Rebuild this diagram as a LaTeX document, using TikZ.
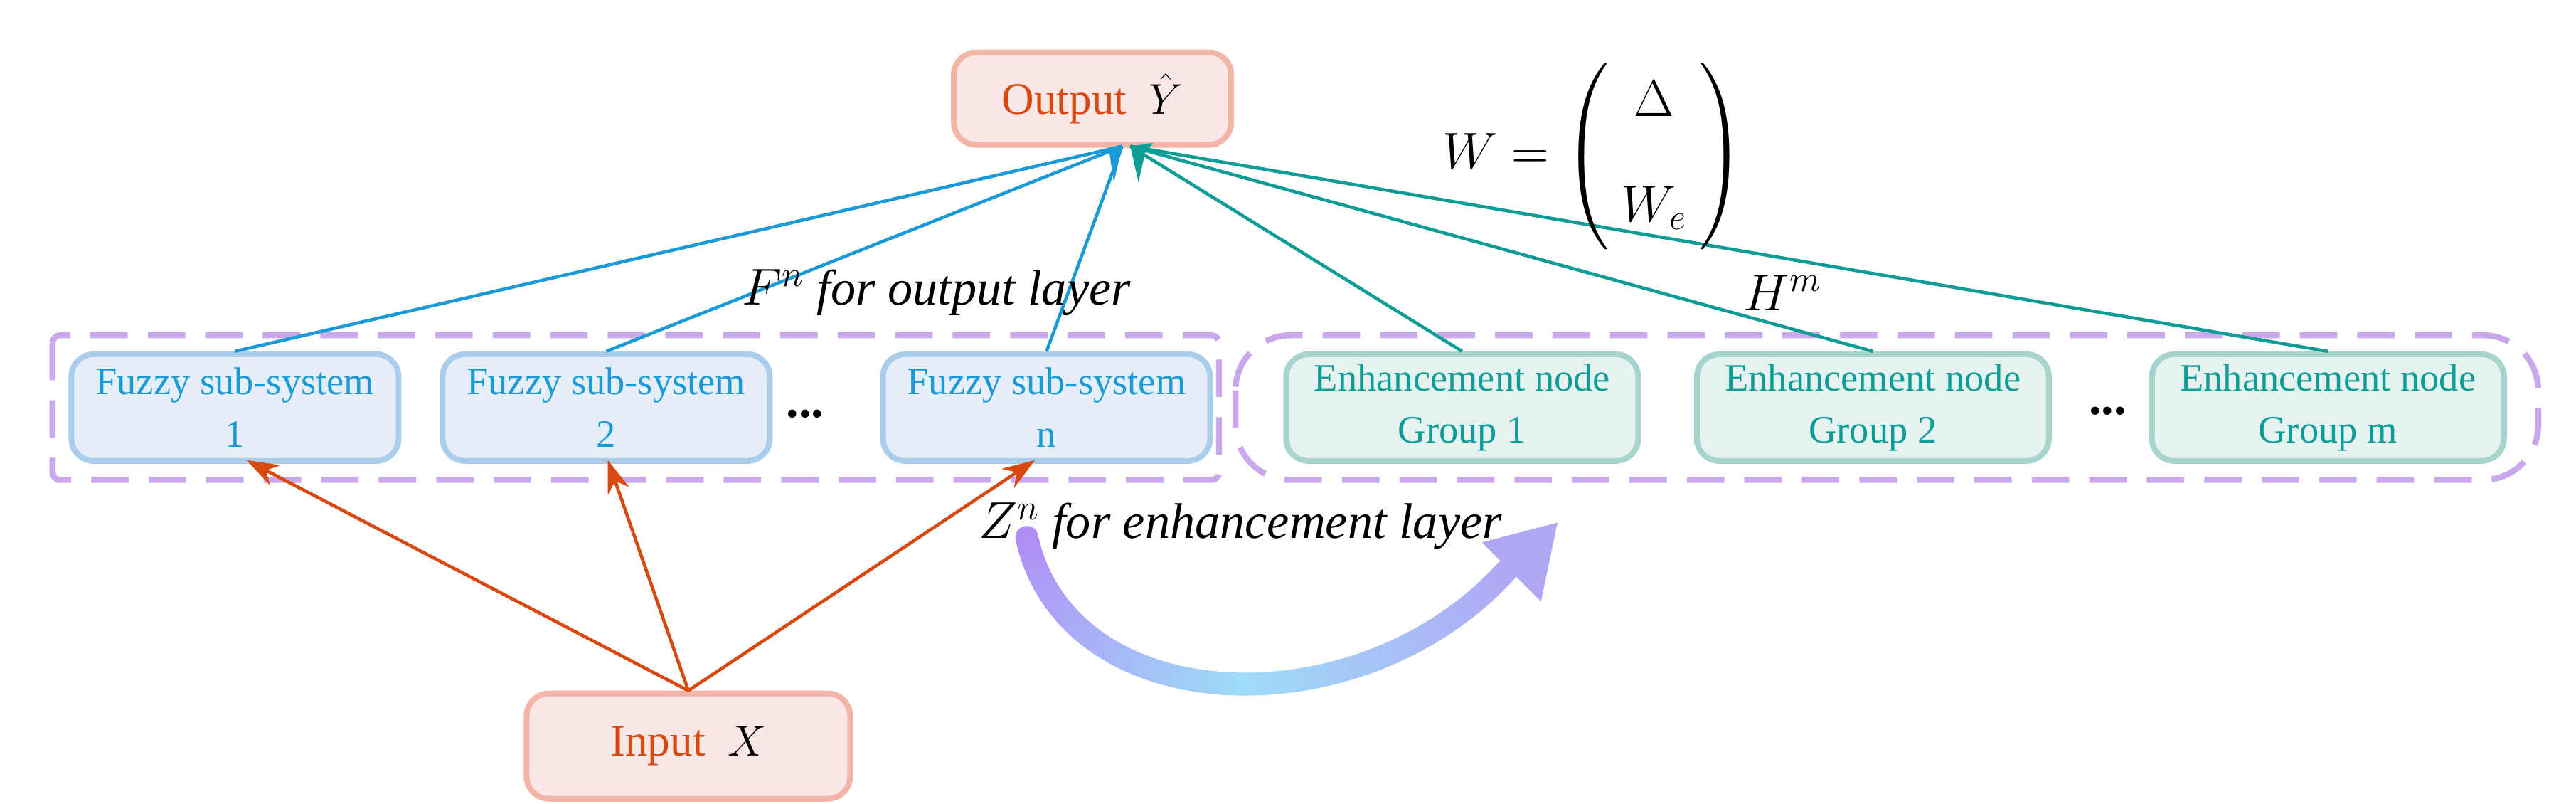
\documentclass[tikz,border=0pt]{standalone}
\usepackage{amsmath}
\usepackage{fontspec}
\setmainfont{Liberation Serif}
\usetikzlibrary{arrows.meta,decorations.markings}
\definecolor{pinkf}{HTML}{FBE8E6}\definecolor{pinkb}{HTML}{F2B5A8}
\definecolor{orng}{HTML}{D9480F}
\definecolor{bluef}{HTML}{E6EEF9}\definecolor{blueb}{HTML}{AACDEC}\definecolor{bluet}{HTML}{1A9AD6}
\definecolor{tealf}{HTML}{E5F2F0}\definecolor{tealb}{HTML}{A8D4CE}\definecolor{tealt}{HTML}{0E9C96}
\definecolor{purp}{HTML}{C9A8EB}
\definecolor{ga}{HTML}{B08CF5}\definecolor{gb}{HTML}{9EDCF8}\definecolor{gc}{HTML}{B0A8F5}
\begin{document}
\begin{tikzpicture}[x=0.0231cm,y=-0.0231cm,
  box/.style={rounded corners=9pt,line width=2.3pt,align=center,font=\fontsize{15.5}{21}\selectfont,inner sep=2pt},
  fz/.style={box,draw=blueb,fill=bluef,text=bluet,minimum width=4.6cm,minimum height=1.5cm},
  en/.style={box,draw=tealb,fill=tealf,text=tealt,minimum width=4.95cm,minimum height=1.5cm},
  io/.style={box,draw=pinkb,fill=pinkf,text=orng,font=\fontsize{18}{22}\selectfont},
  grp/.style={draw=purp,line width=2.4pt,dash pattern=on 15pt off 8pt},
  bl/.style={draw=bluet,line width=1.3pt},
  tl/.style={draw=tealt,line width=1.3pt},
  ol/.style={draw=orng,line width=1.3pt,-{Stealth[length=13pt,width=9pt]}},
  lab/.style={font=\fontsize{20}{24}\selectfont\itshape}]
\useasboundingbox (0,0) rectangle (1568,489);
% groups
\draw[grp,rounded corners=3pt] (32,204) rectangle (742,292);
\draw[grp,rounded corners=22pt] (752,204) rectangle (1545,292);
% nodes
\node[io,minimum width=3.9cm,minimum height=1.3cm] (out) at (665,60) {Output\ \ \textcolor{black}{$\hat{Y}$}};
\node[io,minimum width=4.55cm,minimum height=1.48cm] (in) at (419,454) {Input\ \ \textcolor{black}{$X$}};
\node[fz] (f1) at (143,248) {Fuzzy sub-system\\1};
\node[fz] (f2) at (369,248) {Fuzzy sub-system\\2};
\node[fz] (fn) at (637,248) {Fuzzy sub-system\\n};
\node[en] (e1) at (890,248) {Enhancement node\\Group 1};
\node[en] (e2) at (1140,248) {Enhancement node\\Group 2};
\node[en] (em) at (1417,248) {Enhancement node\\Group m};
\node[font=\fontsize{20}{20}\selectfont] (d1) at (490,252) {\textbf{...}};
\node[font=\fontsize{20}{20}\selectfont] (d2) at (1283,250) {\textbf{...}};
\coordinate (tb) at (683,89);
\coordinate (tt) at (688,89);
% connectors to output
\draw[bl] (f1.north) -- (tb);
\draw[bl] (f2.north) -- (tb);
\draw[bl] (fn.north) -- (tb);
\draw[tl] (e1.north) -- (tt);
\draw[tl] (e2.north) -- (tt);
\draw[tl] (em.north) -- (tt);
\fill[bluet] (tb) -- ++(-12,3) -- ++(4,-1) -- ++(3,20) -- cycle;
\fill[tealt] (tt) -- ++(14,-2) -- ++(-5,6) -- ++(-4,18) -- cycle;
% input arrows
\draw[ol] (in.north) -- (150,280);
\draw[ol] (in.north) -- (370,280);
\draw[ol] (in.north) -- (630,280);
% labels
\node[lab] (fl) at (570,178) {$F^{n}$ for output layer};
\node[lab] (hl) at (1085,178) {$H^{m}$};
\node[lab] (zl) at (755,320) {$Z^{n}$ for enhancement layer};
\node[font=\fontsize{22}{26}\selectfont] (wm) at (970,95) {$W=\left(\begin{array}{c}\Delta\\[16pt] W_e\end{array}\right)$};
% curved arrow
\fill[gc] (948,318) -- (902,330) -- (938,366) -- cycle;
\path[decoration={markings,mark=between positions 0 and 1 step 0.005 with {
  \pgfmathtruncatemacro\k{\pgfkeysvalueof{/pgf/decoration/mark info/sequence number}}
  \ifnum\k<100 \pgfmathtruncatemacro\p{\k}\fill[gb!\p!ga] (0,0) circle (4.6pt);
  \else \pgfmathtruncatemacro\p{\k-100}\fill[gc!\p!gb] (0,0) circle (4.6pt);\fi}},decorate]
  (625,327) .. controls (650,440) and (830,445) .. (918,346);
\end{tikzpicture}
\end{document}
